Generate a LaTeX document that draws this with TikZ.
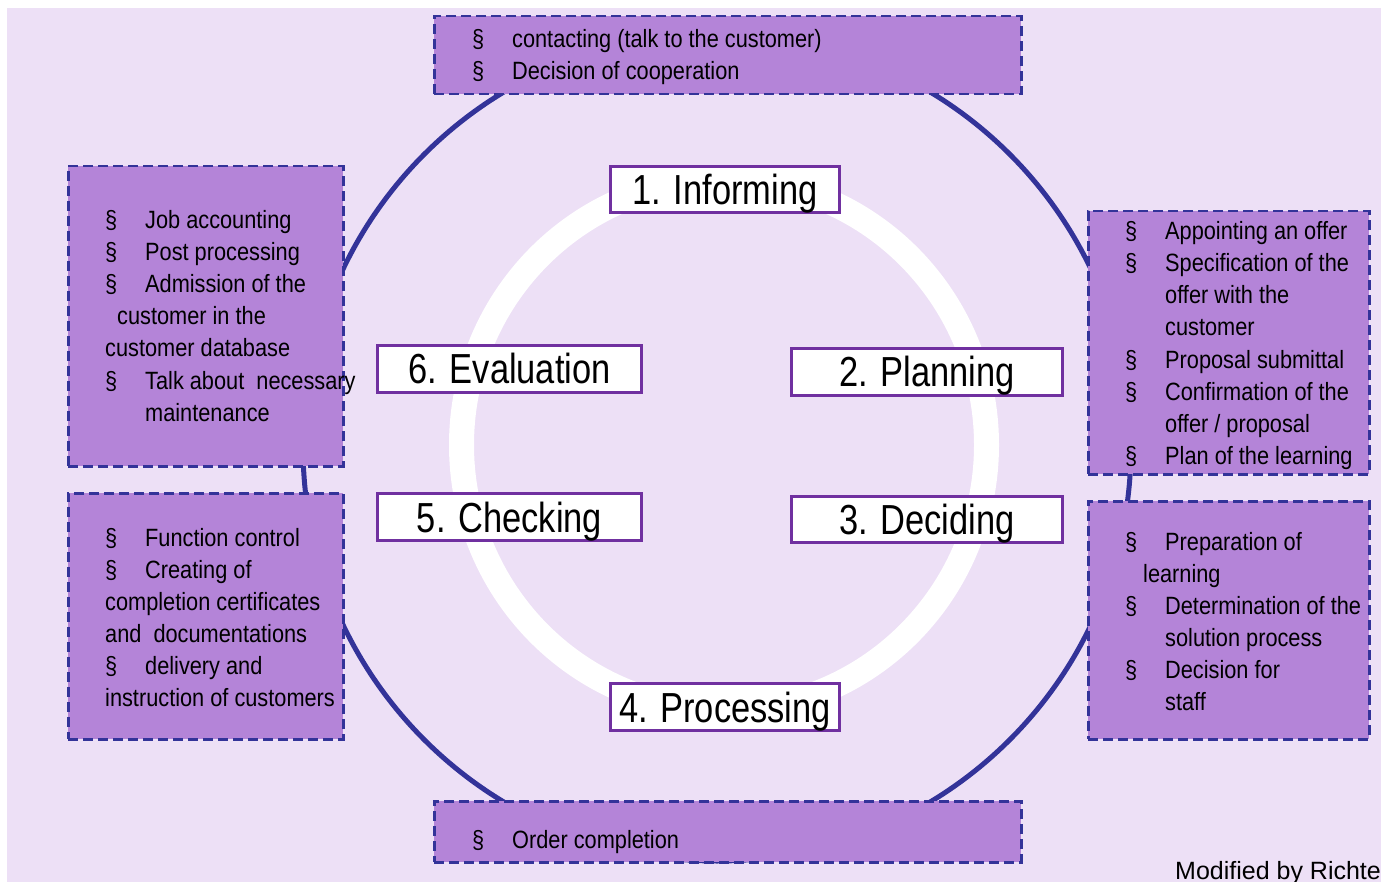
\documentclass[tikz,border=0pt]{standalone}
\usepackage{fontspec}
\setmainfont{Liberation Sans}[FakeStretch=0.82]
\newfontfamily\itemfont{Liberation Sans}[FakeStretch=0.87]
\newfontfamily\plainsans{Liberation Sans}
\definecolor{bgc}{HTML}{EDE0F6}
\definecolor{ringblue}{HTML}{333399}
\definecolor{boxfill}{HTML}{B484D8}
\definecolor{lblpurple}{HTML}{7030A0}
\tikzset{
  dbox/.style={rectangle, draw=ringblue, fill=boxfill, line width=2.5pt, dash pattern=on 10pt off 5pt, inner sep=0pt, anchor=north west},
  lbl/.style={rectangle, draw=lblpurple, fill=white, line width=3pt, inner sep=0pt, text height=30pt, text depth=0pt, font=\fontsize{42}{50}\selectfont},
  itm/.style={anchor=base west, inner sep=0pt, font=\itemfont\fontsize{25}{32}\selectfont},
}
\newcommand\bul{\makebox[40pt][l]{\S}}
\begin{document}
\begin{tikzpicture}[x=1pt,y=-1pt]
\useasboundingbox (0,0) rectangle (1381,882);
\fill[white] (0,0) rectangle (1381,882);
\fill[bgc] (7,8) rectangle (1381,882);
% outer cycle
\draw[ringblue, line width=5pt] (717,447) circle[radius=414];
% inner white ring
\draw[white, line width=25pt] (724,445) ellipse[x radius=262.5, y radius=265.5];
% dashed boxes
\node[dbox, minimum width=587pt, minimum height=78pt] (topbox) at (433,15) {};
\node[dbox, minimum width=275pt, minimum height=300pt] (lubox) at (67,165) {};
\node[dbox, minimum width=275pt, minimum height=246pt] (llbox) at (67,492) {};
\node[dbox, minimum width=281pt, minimum height=263pt] (rubox) at (1087,210) {};
\node[dbox, minimum width=281pt, minimum height=238pt] (rlbox) at (1087,500) {};
\node[dbox, minimum width=587pt, minimum height=61pt] (botbox) at (433,800) {};
% stage labels
\node[lbl, minimum width=229pt, minimum height=46pt] (s1) at (725,190) {1. Informing};
\node[lbl, minimum width=271pt, minimum height=47pt] (s2) at (927,372) {2. Planning};
\node[lbl, minimum width=271pt, minimum height=46pt] (s3) at (927,519) {3. Deciding};
\node[lbl, minimum width=229pt, minimum height=47pt] (s4) at (725,707) {4. Processing};
\node[lbl, minimum width=264pt, minimum height=47pt] (s6) at (509.5,369) {6. Evaluation};
\node[lbl, minimum width=264pt, minimum height=47pt] (s5) at (509.5,517) {5. Checking};
% top box text
\node[itm] (t1) at (472,48) {\bul contacting (talk to the customer)};
\node[itm] (t2) at (472,80) {\bul Decision of cooperation};
% left upper box text
\node[itm] (lu1) at (105,229) {\bul Job accounting};
\node[itm] (lu2) at (105,261) {\bul Post processing};
\node[itm] (lu3) at (105,293) {\bul Admission of the};
\node[itm] (lu4) at (117,325) {customer in the};
\node[itm] (lu5) at (105,357) {customer database};
\node[itm] (lu6) at (105,389) {\bul Talk about\ \ necessary};
\node[itm] (lu7) at (145,421) {maintenance};
% right upper box text
\node[itm] (ru1) at (1125,240) {\bul Appointing an offer};
\node[itm] (ru2) at (1125,272) {\bul Specification of the};
\node[itm] (ru3) at (1165,304) {offer with the};
\node[itm] (ru4) at (1165,336) {customer};
\node[itm] (ru5) at (1125,368) {\bul Proposal submittal};
\node[itm] (ru6) at (1125,400) {\bul Confirmation of the};
\node[itm] (ru7) at (1165,432) {offer / proposal};
\node[itm] (ru8) at (1125,464) {\bul Plan of the learning};
% left lower box text
\node[itm] (ll1) at (105,546) {\bul Function control};
\node[itm] (ll2) at (105,578) {\bul Creating of};
\node[itm] (ll3) at (105,610) {completion certificates};
\node[itm] (ll4) at (105,642) {and\ \ documentations};
\node[itm] (ll5) at (105,674) {\bul delivery and};
\node[itm] (ll6) at (105,706) {instruction of customers};
% right lower box text
\node[itm] (rl1) at (1125,550) {\bul Preparation of};
\node[itm] (rl2) at (1143,582) {learning};
\node[itm] (rl3) at (1125,614) {\bul Determination of the};
\node[itm] (rl4) at (1165,646) {solution process};
\node[itm] (rl5) at (1125,678) {\bul Decision for};
\node[itm] (rl6) at (1165,710) {staff};
% bottom box text
\node[itm] (b1) at (472,848) {\bul Order completion};
% credit
\node[anchor=base west, inner sep=0pt, font=\plainsans\fontsize{25}{30}\selectfont] (credit) at (1175,879) {Modified by Richter};
\end{tikzpicture}
\end{document}
